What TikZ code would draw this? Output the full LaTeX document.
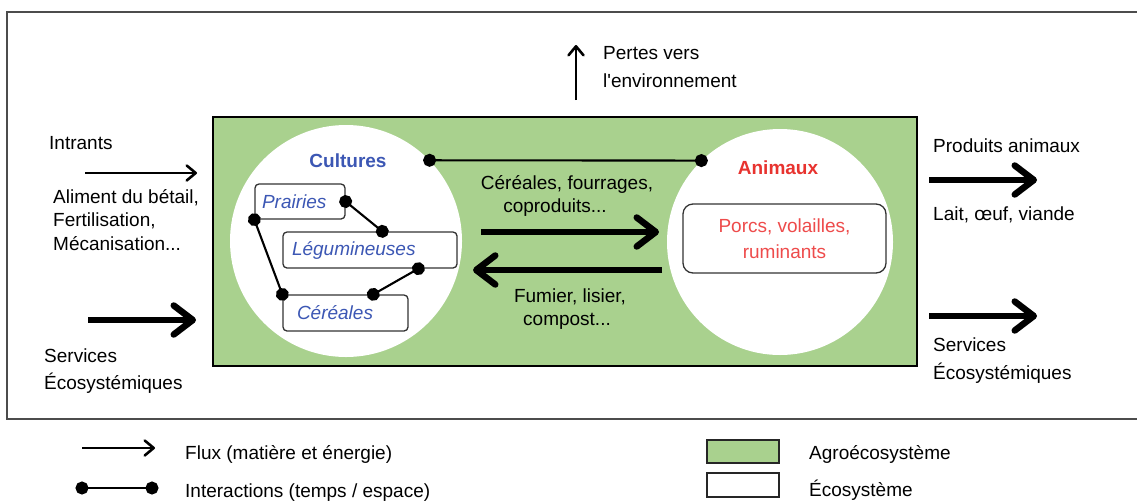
\documentclass[tikz,border=0pt]{standalone}
\usepackage{fontspec}
\setmainfont{Liberation Sans}
\usetikzlibrary{arrows.meta,calc}
\definecolor{agro}{HTML}{A9D18E}
\definecolor{cblue}{HTML}{3C57B4}
\definecolor{ared}{HTML}{E8332F}
\definecolor{pred}{HTML}{EE4B4B}
\begin{document}
\begin{tikzpicture}[x=1pt,y=-1pt,
  txt/.style={font=\fontsize{19}{22}\selectfont, inner sep=0pt, anchor=base west},
  ctxt/.style={font=\fontsize{19}{22}\selectfont, inner sep=0pt, anchor=base},
  thick arrow/.style={line width=6.5pt, -{Straight Barb[length=19pt,width=29pt,line cap=round,line join=round]}},
  thin arrow/.style={line width=2.6pt, -{Straight Barb[length=9pt,width=15pt,line cap=round,line join=round]}},
  inter/.style={line width=2.1pt, {Circle[length=13pt,width=13pt]}-{Circle[length=13pt,width=13pt]}, shorten <=-6.5pt, shorten >=-6.5pt},
  subbox/.style={draw=black!80, line width=1.3pt, rounded corners=4pt, fill=white, align=left,
     font=\fontsize{19}{22}\selectfont\itshape, text=cblue},
  circ/.style={circle, fill=white, inner sep=0pt}
]
\useasboundingbox (0,0) rectangle (1137,501);
\fill[white] (0,0) rectangle (1137,501);
% outer ecosystem box
\draw[draw=black!70, line width=1.8pt] (1145,12) -- (7,12) -- (7,419) -- (1145,419);
% agroecosystem
\node[draw=black, line width=1.6pt, fill=agro, minimum width=704, minimum height=249, inner sep=0pt] (agro) at (565,241.5) {};
% circles
\node[circ, minimum size=232] (cul) at (346,241) {};
\node[circ, minimum size=226] (ani) at (780,242) {};
\node[font=\fontsize{19}{22}\selectfont\bfseries, text=cblue, inner sep=0pt] (cultit) at (348,161) {Cultures};
\node[font=\fontsize{19}{22}\selectfont\bfseries, text=ared, inner sep=0pt] (anitit) at (778,168) {Animaux};
\draw[inter] (cul.44) -- (ani.134);
% sub boxes
\node[subbox, minimum height=35, inner xsep=7pt, text width=76pt] (pra) at (300,201.5) {Prairies};
\node[subbox, minimum height=36, inner xsep=9pt, text width=156pt] (leg) at (370,250) {Légumineuses};
\node[subbox, minimum height=36, inner xsep=14pt, text width=97pt] (cer) at (345.5,313) {Céréales};
\draw[inter] (pra.east) -- ($(leg.north west)!0.57!(leg.north east)$);
\draw[inter] (pra.south west) -- (cer.north west);
\draw[inter] ($(leg.south west)!0.776!(leg.south east)$) -- ($(cer.north west)!0.72!(cer.north east)$);
\node[draw=black!80, line width=1.3pt, rounded corners=10pt, fill=white, minimum width=203, minimum height=69,
      align=center, text=pred, font=\fontsize{19}{26}\selectfont] (por) at (784.5,238.5) {Porcs, volailles,\\ruminants};
% internal flows
\coordinate (f1s) at (481,232); \coordinate (f1e) at (659,232);
\coordinate (f2s) at (662,270); \coordinate (f2e) at (473,270);
\draw[thick arrow] (f1s) -- (f1e);
\draw[thick arrow] (f2s) -- (f2e);
\node[ctxt] (t1) at (567,189) {Céréales, fourrages,};
\node[ctxt] (t2) at (555,212) {coproduits...};
\node[ctxt] (t3) at (570,302) {Fumier, lisier,};
\node[ctxt] (t4) at (567,325) {compost...};
% losses
\coordinate (ps) at (576,100); \coordinate (pe) at (576,45);
\draw[thin arrow] (ps) -- (pe);
\node[txt] (p1) at (603,59) {Pertes vers};
\node[txt] (p2) at (603,87) {l\textquotesingle environnement};
% inputs
\node[txt] (in1) at (49,149) {Intrants};
\coordinate (ia) at (85,173); \coordinate (ib) at (197,173);
\draw[thin arrow] (ia) -- (ib);
\node[txt] (in2) at (53,203) {Aliment du bétail,};
\node[txt] (in3) at (53,226) {Fertilisation,};
\node[txt] (in4) at (53,250) {Mécanisation...};
\coordinate (sa) at (88,320); \coordinate (sb) at (196,320);
\draw[thick arrow] (sa) -- (sb);
\node[txt] (s1) at (44,362) {Services};
\node[txt] (s2) at (44,389) {Écosystémiques};
% outputs
\node[txt] (o1) at (933,152) {Produits animaux};
\coordinate (oa) at (929,180); \coordinate (ob) at (1037,180);
\draw[thick arrow] (oa) -- (ob);
\node[txt] (o2) at (933,220) {Lait, œuf, viande};
\coordinate (ra) at (929,316); \coordinate (rb) at (1037,316);
\draw[thick arrow] (ra) -- (rb);
\node[txt] (o3) at (933,351) {Services};
\node[txt] (o4) at (933,379) {Écosystémiques};
% legend
\coordinate (la) at (82,448); \coordinate (lb) at (155,448);
\draw[thin arrow] (la) -- (lb);
\node[txt] (l1) at (185,459) {Flux (matière et énergie)};
\coordinate (lc) at (82,488); \coordinate (ld) at (152,488);
\draw[inter] (lc) -- (ld);
\node[txt] (l2) at (185,497) {Interactions (temps / espace)};
\node[draw=black!85, line width=1.3pt, fill=agro, minimum width=72, minimum height=23, inner sep=0pt] (lg) at (743,451.5) {};
\node[txt] (l3) at (809,459) {Agroécosystème};
\node[draw=black!85, line width=1.3pt, fill=white, minimum width=72, minimum height=24, inner sep=0pt] (lw) at (743,485) {};
\node[txt] (l4) at (809,496) {Écosystème};
\end{tikzpicture}
\end{document}
